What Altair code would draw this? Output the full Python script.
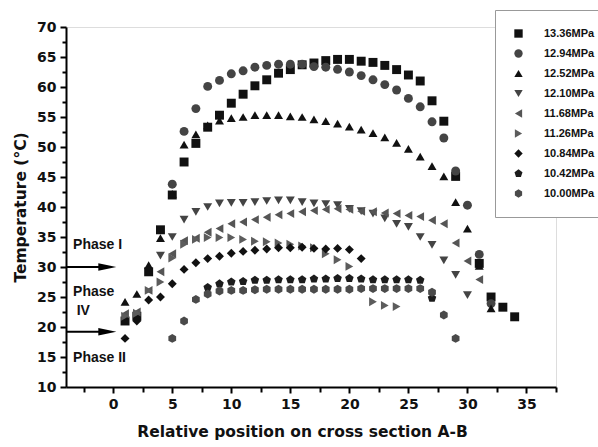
import altair as alt
import pandas as pd

labels = ["13.36MPa", "12.94MPa", "12.52MPa", "12.10MPa", "11.68MPa",
          "11.26MPa", "10.84MPa", "10.42MPa", "10.00MPa"]

x1336 = list(range(1, 30)) + [31, 32, 33, 34]
y1336 = [21, 21.8, 29.2, 36.2, 42, 47.5, 50.6, 53.3, 55.3, 57.3, 58.8, 60.2, 61.2,
         62.3, 62.9, 63.7, 64, 64.4, 64.6, 64.6, 64.3, 64.1, 63.6, 62.9, 62, 61,
         57.7, 54.3, 45.1, 30.6, 25, 23.3, 21.7]

x1294 = list(range(5, 33))
y1294 = [43.8, 52.6, 56.4, 60.1, 61.1, 62.2, 62.7, 63.3, 63.6, 63.8, 63.8, 63.8,
         63.4, 63.3, 62.95, 62.5, 61.9, 61.2, 60.4, 59.5, 58.1, 56.7, 54.2, 51.5,
         46, 40.3, 32.1, 23.9]

x1252 = list(range(1, 33))
y1252 = [24.2, 25.5, 30.3, 34.8, 42.2, 50.4, 52.1, 53.6, 54.4, 54.8, 55, 55.3,
         55.3, 55.3, 55.1, 55, 54.6, 54.3, 53.9, 53.4, 52.9, 52.3, 51.6, 50.7,
         49.7, 48.4, 46.8, 45.1, 40.8, 36.4, 30.2, 23.1]

x1210 = list(range(4, 31))
y1210 = [31.9, 35, 37.9, 39.2, 40, 40.6, 40.7, 40.7, 40.8, 41, 41.1, 41.1, 40.8,
         40.6, 40.5, 40.3, 39.7, 39.3, 38.9, 38.1, 37.2, 36.7, 35, 33.7, 31.1,
         28.7, 25.3]

x1168 = list(range(1, 32))
y1168 = [22.2, 22.5, 26.1, 29.2, 32.2, 34.4, 34.8, 35.8, 36.4, 37.2, 37.5, 37.9,
         38.3, 38.7, 38.9, 39.2, 39.4, 39.6, 39.7, 39.6, 39.3, 39.2, 39, 38.9,
         38.6, 38.4, 37.8, 37.2, 34, 31, 27.9]

x1126 = list(range(1, 21)) + [22, 23, 24]
y1126 = [21.8, 22.3, 26.1, 27.5, 31.5, 33.8, 34.6, 34.9, 34.9, 34.9, 34.6, 34.3,
         34.2, 34, 33.8, 33.5, 33.2, 32.2, 31.2, 30.1, 24.2, 23.6, 23.4]

x1084 = list(range(1, 22))
y1084 = [18.1, 21, 24.5, 25, 27.2, 29.6, 30.7, 31.4, 31.8, 32.3, 32.6, 32.8, 33,
         33.2, 33.2, 33.3, 33.1, 33, 33.1, 32.9, 31.4]

x1042 = list(range(8, 28))
y1042 = [26.6, 27.2, 27.5, 27.6, 27.8, 27.8, 27.9, 27.9, 27.9, 28, 28, 28.1,
         28.1, 28, 27.9, 27.9, 27.9, 27.9, 27.8, 24.8]

x1000 = list(range(5, 30))
y1000 = [18.1, 21, 24.6, 25.5, 26, 26.1, 26.1, 26.2, 26.3, 26.3, 26.3, 26.3,
         26.3, 26.3, 26.3, 26.3, 26.4, 26.4, 26.4, 26.4, 26.4, 26.4, 25.8, 22, 18.1]

series_x = [x1336, x1294, x1252, x1210, x1168, x1126, x1084, x1042, x1000]
series_y = [y1336, y1294, y1252, y1210, y1168, y1126, y1084, y1042, y1000]

PENT = "M0,-1L0.951,-0.309L0.588,0.809L-0.588,0.809L-0.951,-0.309Z"
HEX = "M0,-1L0.866,-0.5L0.866,0.5L0,1L-0.866,0.5L-0.866,-0.5Z"
shapes = ["square", "circle", "triangle-up", "triangle-down", "triangle-left",
          "triangle-right", "diamond", PENT, HEX]
colors = ["#111111", "#444444", "#111111", "#444444", "#555555",
          "#5c5c5c", "#111111", "#1c1c1c", "#4a4a4a"]

ann_text = ["Phase I", "Phase", "IV", "Phase II"]
ann_x = [-3.4, -3.4, -3.1, -3.4]
ann_y = [33.6, 25.8, 22.7, 14.8]

arrow_y = [30, 19.2]
arrow_x0 = [-4, -4]
arrow_x1 = [-1.2, -1.2]
arrow_head_x = [-0.5, -0.5]

major_x = [0, 5, 10, 15, 20, 25, 30, 35]
minor_x = [-2.5, 2.5, 7.5, 12.5, 17.5, 22.5, 27.5, 32.5, 37.5]
major_y = [10, 15, 20, 25, 30, 35, 40, 45, 50, 55, 60, 65, 70]
minor_y = [12.5, 17.5, 22.5, 27.5, 32.5, 37.5, 42.5, 47.5, 52.5, 57.5, 62.5, 67.5]

rows = []
for lab, xs_, ys_ in zip(labels, series_x, series_y):
    for xv, yv in zip(xs_, ys_):
        rows.append({"series": lab, "x": xv, "y": yv})
df = pd.DataFrame(rows)

df_ann = pd.DataFrame({"text": ann_text, "x": ann_x, "y": ann_y})
df_arr = pd.DataFrame({"y": arrow_y, "x0": arrow_x0, "x1": arrow_x1, "xh": arrow_head_x})

FONT = "Liberation Sans"
WIDE = "DejaVu Sans"
xs = alt.Scale(domain=[-4, 37.5], nice=False, zero=False)
ys = alt.Scale(domain=[10, 70], nice=False, zero=False)

legend = alt.Legend(
    title=None, orient="none", legendX=429, legendY=-17,
    strokeColor="#999999", padding=18, labelFont=FONT, labelFontSize=11,
    labelFontWeight="bold", labelColor="#111111", symbolSize=70,
    rowPadding=8, labelOffset=20, symbolStrokeWidth=0, fillColor="white",
)

minor = alt.Chart(df).mark_point(opacity=0).encode(
    x=alt.X("x:Q", scale=xs, axis=alt.Axis(
        values=minor_x, title=None, labels=False, domain=False, grid=False,
        orient="bottom", tickColor="black", tickWidth=2, tickSize=5)),
    y=alt.Y("y:Q", scale=ys, axis=alt.Axis(
        values=minor_y, title=None, labels=False, domain=False, grid=False,
        orient="left", tickColor="black", tickWidth=2, tickSize=4)),
)

points = alt.Chart(df).mark_point(filled=True, size=80, opacity=1).encode(
    x=alt.X("x:Q", scale=xs, axis=alt.Axis(
        values=major_x, title="Relative position on cross section A-B",
        orient="bottom", grid=False, domainColor="black", domainWidth=2,
        tickColor="black", tickWidth=2, tickSize=6, labelFont=WIDE,
        labelFontSize=14, labelFontWeight="bold", labelColor="#111111",
        labelPadding=4, titleFont=WIDE, titleFontSize=15.5, titleFontWeight="bold",
        titleColor="#111111", titlePadding=13, titleX=236, titleAlign="center")),
    y=alt.Y("y:Q", scale=ys, axis=alt.Axis(
        values=major_y, title="Temperature (°C)", orient="left", grid=False,
        domainColor="black", domainWidth=2, tickColor="black", tickWidth=2,
        tickSize=6, labelFont=WIDE, labelFontSize=14, labelFontWeight="bold",
        labelColor="#111111", labelPadding=4, titleFont=WIDE, titleFontSize=15.5,
        titleFontWeight="bold", titleColor="#111111", titlePadding=8)),
    shape=alt.Shape("series:N", scale=alt.Scale(domain=labels, range=shapes), legend=legend),
    color=alt.Color("series:N", scale=alt.Scale(domain=labels, range=colors), legend=legend),
)

text = alt.Chart(df_ann).mark_text(
    align="left", baseline="middle", font=FONT, fontSize=14, fontWeight="bold",
    color="#111111").encode(
    x=alt.X("x:Q", scale=xs, axis=None), y=alt.Y("y:Q", scale=ys, axis=None),
    text="text:N")

arrow_lines = alt.Chart(df_arr).mark_rule(color="black", strokeWidth=2).encode(
    x=alt.X("x0:Q", scale=xs, axis=None), x2="x1:Q",
    y=alt.Y("y:Q", scale=ys, axis=None))

ARROW = "M-1,-0.42L1,0L-1,0.42Z"
arrow_heads = alt.Chart(df_arr).mark_point(
    shape=ARROW, filled=True, size=324, color="black", opacity=1).encode(
    x=alt.X("xh:Q", scale=xs, axis=None), y=alt.Y("y:Q", scale=ys, axis=None))

chart = alt.layer(minor, points, arrow_lines, arrow_heads, text).resolve_axis(
    x="independent", y="independent"
).properties(
    width=490, height=360, autosize="none",
    padding={"left": 66, "top": 27, "right": 42, "bottom": 60},
).configure_view(stroke=None).configure(background="white")

chart.save("out.html", embed_options={"renderer": "svg", "actions": False})
